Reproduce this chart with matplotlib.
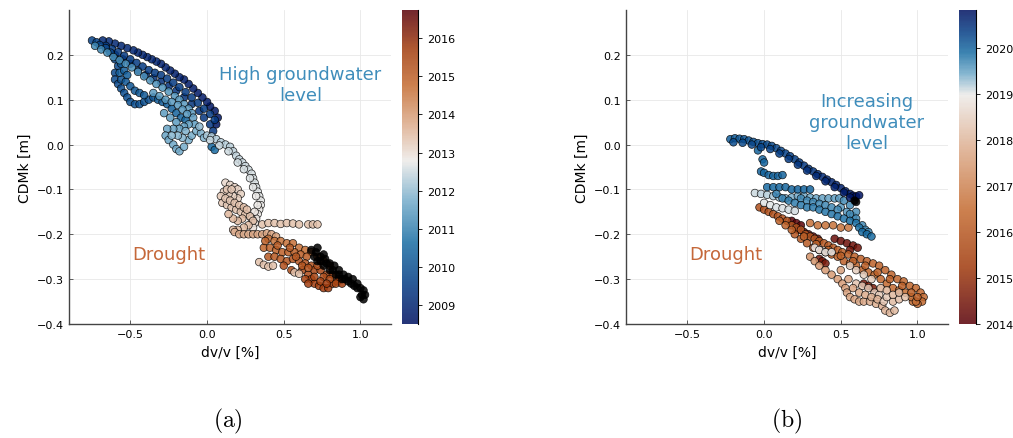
import matplotlib
matplotlib.use('Agg')
import matplotlib.pyplot as plt
from matplotlib.colors import LinearSegmentedColormap, Normalize

plt.rcParams['font.family'] = 'DejaVu Sans'
plt.rcParams['mathtext.fontset'] = 'cm'

# --- colour stops of a vik-like diverging map (position, rgb) ---
vik_stops = [
    (0.000, (0.00, 0.07, 0.38)),
    (0.125, (0.02, 0.24, 0.52)),
    (0.250, (0.10, 0.43, 0.64)),
    (0.375, (0.45, 0.67, 0.79)),
    (0.500, (0.93, 0.92, 0.91)),
    (0.625, (0.86, 0.66, 0.53)),
    (0.750, (0.77, 0.42, 0.19)),
    (0.875, (0.63, 0.23, 0.05)),
    (1.000, (0.35, 0.00, 0.03)),
]

# --- panel (a): (dv/v [%], CDMk [m], decimal year) ---
a_wet_early = [
    (0.06, 0.045, 2008.60), (0.07, 0.060, 2008.62), (0.05, 0.075, 2008.64), (0.02, 0.085, 2008.66),
    (0.00, 0.095, 2008.68), (-0.03, 0.105, 2008.70), (-0.06, 0.115, 2008.72), (-0.09, 0.125, 2008.74),
    (-0.12, 0.135, 2008.76), (-0.15, 0.145, 2008.78), (-0.18, 0.150, 2008.80), (-0.21, 0.158, 2008.82),
    (-0.24, 0.165, 2008.84), (-0.27, 0.172, 2008.86), (-0.30, 0.180, 2008.88), (-0.33, 0.185, 2008.90),
    (-0.36, 0.190, 2008.92), (-0.39, 0.195, 2008.94), (-0.42, 0.200, 2008.96), (-0.45, 0.205, 2008.98),
    (-0.48, 0.210, 2009.00), (-0.52, 0.215, 2009.02), (-0.56, 0.220, 2009.04), (-0.60, 0.225, 2009.06),
    (-0.64, 0.230, 2009.08), (-0.68, 0.232, 2009.10),
    (-0.60, 0.200, 2009.15), (-0.55, 0.190, 2009.17), (-0.50, 0.180, 2009.19), (-0.45, 0.165, 2009.21),
    (-0.40, 0.155, 2009.23), (-0.35, 0.148, 2009.25), (-0.30, 0.140, 2009.27), (-0.25, 0.130, 2009.29),
    (-0.20, 0.120, 2009.31), (-0.15, 0.105, 2009.33), (-0.10, 0.090, 2009.35), (-0.05, 0.075, 2009.37),
    (-0.02, 0.060, 2009.39), (0.02, 0.045, 2009.41), (0.04, 0.030, 2009.43),
    (-0.66, 0.220, 2009.50), (-0.62, 0.213, 2009.50), (-0.58, 0.206, 2009.50), (-0.54, 0.198, 2009.50),
    (-0.50, 0.190, 2009.50), (-0.46, 0.182, 2009.50), (-0.42, 0.174, 2009.50), (-0.38, 0.166, 2009.50),
    (-0.34, 0.160, 2009.50), (-0.30, 0.155, 2009.50), (-0.26, 0.147, 2009.50), (-0.22, 0.138, 2009.50),
    (-0.18, 0.128, 2009.50), (-0.14, 0.117, 2009.50), (-0.10, 0.105, 2009.50), (-0.06, 0.093, 2009.50),
    (-0.02, 0.080, 2009.50), (0.02, 0.068, 2009.50), (0.05, 0.055, 2009.50),
]
a_wet_mid = [
    (-0.75, 0.232, 2009.70), (-0.72, 0.228, 2009.72), (-0.70, 0.222, 2009.74), (-0.66, 0.215, 2009.76),
    (-0.63, 0.205, 2009.78), (-0.60, 0.190, 2009.80), (-0.58, 0.175, 2009.82), (-0.60, 0.160, 2009.84),
    (-0.60, 0.145, 2009.86), (-0.58, 0.135, 2009.88), (-0.56, 0.125, 2009.90), (-0.54, 0.115, 2009.92),
    (-0.52, 0.105, 2009.94), (-0.50, 0.095, 2009.96), (-0.47, 0.090, 2009.98), (-0.44, 0.090, 2010.00),
    (-0.41, 0.095, 2010.02), (-0.38, 0.100, 2010.04), (-0.35, 0.105, 2010.06), (-0.56, 0.145, 2010.10),
    (-0.53, 0.140, 2010.12), (-0.50, 0.130, 2010.14), (-0.47, 0.120, 2010.16), (-0.44, 0.115, 2010.18),
    (-0.41, 0.110, 2010.20), (-0.32, 0.100, 2010.24), (-0.29, 0.095, 2010.28), (-0.26, 0.090, 2010.32),
    (-0.23, 0.080, 2010.36), (-0.20, 0.070, 2010.40), (-0.17, 0.060, 2010.44), (-0.14, 0.055, 2010.48),
    (0.03, -0.005, 2010.55), (0.05, -0.012, 2010.58),
    (-0.57, 0.160, 2010.30), (-0.54, 0.165, 2010.30), (-0.56, 0.180, 2010.30), (-0.52, 0.155, 2010.30),
]
a_wet_late = [
    (-0.73, 0.220, 2011.10), (-0.69, 0.212, 2011.12), (-0.65, 0.205, 2011.14), (-0.61, 0.195, 2011.16),
    (-0.57, 0.188, 2011.18), (-0.53, 0.180, 2011.20), (-0.49, 0.172, 2011.22), (-0.45, 0.162, 2011.24),
    (-0.41, 0.152, 2011.26), (-0.37, 0.143, 2011.28), (-0.33, 0.135, 2011.30), (-0.29, 0.127, 2011.32),
    (-0.25, 0.118, 2011.34), (-0.21, 0.108, 2011.36), (-0.18, 0.100, 2011.38), (-0.15, 0.090, 2011.40),
    (-0.12, 0.080, 2011.44), (-0.10, 0.070, 2011.46), (-0.09, 0.060, 2011.48), (-0.08, 0.045, 2011.50),
    (-0.35, 0.115, 2011.40), (-0.31, 0.108, 2011.40), (-0.27, 0.100, 2011.40), (-0.23, 0.095, 2011.40),
    (-0.19, 0.088, 2011.40), (-0.16, 0.078, 2011.40), (-0.13, 0.068, 2011.40), (-0.28, 0.070, 2011.45),
    (-0.24, 0.060, 2011.45), (-0.20, 0.050, 2011.45),
    (-0.12, 0.045, 2011.52), (-0.15, 0.040, 2011.54), (-0.18, 0.035, 2011.56), (-0.22, 0.035, 2011.58),
    (-0.26, 0.035, 2011.60), (-0.27, 0.020, 2011.62), (-0.25, 0.010, 2011.64), (-0.22, 0.000, 2011.66),
    (-0.20, -0.010, 2011.68), (-0.18, -0.015, 2011.70), (-0.15, -0.005, 2011.72), (-0.12, 0.010, 2011.74),
    (-0.10, 0.020, 2011.76), (-0.07, 0.030, 2011.78), (-0.04, 0.025, 2011.80), (-0.02, 0.015, 2011.82),
    (-0.14, 0.030, 2011.84), (-0.16, 0.015, 2011.86), (-0.19, 0.020, 2011.88), (-0.23, 0.020, 2011.90),
    (-0.05, 0.040, 2011.92),
]
a_transition = [
    (0.00, 0.020, 2012.20), (0.03, 0.018, 2012.23), (0.06, 0.012, 2012.26), (0.09, 0.005, 2012.29),
    (0.12, 0.000, 2012.32), (0.15, -0.005, 2012.35), (0.17, -0.015, 2012.38), (0.19, -0.025, 2012.41),
    (0.21, -0.033, 2012.44), (0.23, -0.040, 2012.47), (0.25, -0.048, 2012.50), (0.27, -0.056, 2012.53),
    (0.29, -0.065, 2012.56), (0.30, -0.075, 2012.59), (0.31, -0.085, 2012.62), (0.32, -0.095, 2012.65),
    (0.33, -0.105, 2012.68), (0.34, -0.115, 2012.71), (0.35, -0.125, 2012.74), (0.35, -0.135, 2012.77),
    (0.34, -0.145, 2012.80), (0.33, -0.155, 2012.83), (0.32, -0.165, 2012.86),
    (0.02, 0.010, 2012.40), (0.08, -0.002, 2012.45), (0.14, -0.015, 2012.50), (0.20, -0.040, 2012.55),
    (0.24, -0.055, 2012.60), (0.28, -0.075, 2012.65), (0.30, -0.095, 2012.70), (0.32, -0.115, 2012.75),
    (0.33, -0.135, 2012.80), (0.31, -0.150, 2012.85), (0.29, -0.165, 2012.90), (0.31, -0.175, 2012.92),
    (0.30, -0.185, 2012.95),
]
a_dry_start = [
    (0.12, -0.085, 2013.10), (0.15, -0.090, 2013.12), (0.18, -0.095, 2013.14), (0.20, -0.100, 2013.16),
    (0.22, -0.110, 2013.18), (0.20, -0.120, 2013.20), (0.17, -0.115, 2013.22), (0.14, -0.110, 2013.24),
    (0.11, -0.105, 2013.26), (0.09, -0.115, 2013.28), (0.10, -0.130, 2013.30), (0.13, -0.135, 2013.32),
    (0.16, -0.140, 2013.34), (0.19, -0.145, 2013.36), (0.22, -0.150, 2013.38), (0.25, -0.155, 2013.40),
    (0.28, -0.160, 2013.42), (0.30, -0.170, 2013.44), (0.27, -0.180, 2013.46), (0.24, -0.185, 2013.48),
    (0.20, -0.190, 2013.50), (0.17, -0.190, 2013.52),
    (0.13, -0.100, 2013.30), (0.16, -0.100, 2013.30), (0.12, -0.120, 2013.35), (0.15, -0.125, 2013.35),
    (0.18, -0.130, 2013.40), (0.21, -0.135, 2013.40), (0.24, -0.140, 2013.45), (0.26, -0.145, 2013.45),
    (0.23, -0.165, 2013.50), (0.20, -0.170, 2013.50), (0.17, -0.165, 2013.55), (0.14, -0.155, 2013.55),
    (0.18, -0.195, 2013.70), (0.21, -0.200, 2013.72), (0.24, -0.200, 2013.74), (0.27, -0.200, 2013.76),
    (0.30, -0.200, 2013.78), (0.33, -0.200, 2013.80), (0.36, -0.200, 2013.82), (0.39, -0.198, 2013.84),
    (0.42, -0.200, 2013.86), (0.45, -0.205, 2013.88),
    (0.36, -0.178, 2013.40), (0.40, -0.175, 2013.40), (0.44, -0.175, 2013.40), (0.48, -0.177, 2013.40),
    (0.52, -0.175, 2013.40), (0.56, -0.176, 2013.40), (0.60, -0.178, 2013.40), (0.66, -0.178, 2013.40),
    (0.69, -0.178, 2013.40), (0.72, -0.178, 2013.40),
]
a_drought = [
    (0.40, -0.210, 2014.60), (0.44, -0.215, 2014.62), (0.48, -0.215, 2014.64), (0.52, -0.220, 2014.66),
    (0.56, -0.220, 2014.68), (0.60, -0.230, 2014.70), (0.64, -0.235, 2014.72), (0.68, -0.240, 2014.74),
    (0.72, -0.250, 2014.76), (0.76, -0.260, 2014.78), (0.80, -0.270, 2014.80),
    (0.37, -0.230, 2014.85), (0.41, -0.230, 2014.88), (0.45, -0.235, 2014.91), (0.49, -0.240, 2014.94),
    (0.53, -0.240, 2014.97), (0.57, -0.240, 2015.00), (0.61, -0.245, 2015.03), (0.65, -0.250, 2015.06),
    (0.40, -0.250, 2015.10), (0.44, -0.250, 2015.13), (0.48, -0.255, 2015.16), (0.52, -0.260, 2015.19),
    (0.56, -0.255, 2015.22), (0.60, -0.260, 2015.25), (0.64, -0.265, 2015.28), (0.68, -0.270, 2015.31),
    (0.50, -0.270, 2015.35), (0.55, -0.280, 2015.38), (0.62, -0.280, 2015.41), (0.66, -0.290, 2015.44),
    (0.70, -0.280, 2015.47), (0.74, -0.280, 2015.50), (0.78, -0.290, 2015.53), (0.82, -0.290, 2015.56),
    (0.86, -0.300, 2015.59),
    (0.68, -0.300, 2015.62), (0.70, -0.310, 2015.65), (0.73, -0.315, 2015.68), (0.76, -0.320, 2015.71),
    (0.79, -0.320, 2015.74), (0.82, -0.310, 2015.77), (0.85, -0.305, 2015.80),
    (0.38, -0.215, 2015.00), (0.46, -0.225, 2015.05), (0.54, -0.230, 2015.10), (0.58, -0.250, 2015.15),
    (0.62, -0.270, 2015.20), (0.66, -0.275, 2015.25), (0.72, -0.270, 2015.30), (0.76, -0.295, 2015.35),
    (0.80, -0.300, 2015.40), (0.84, -0.310, 2015.45), (0.70, -0.295, 2015.50), (0.74, -0.305, 2015.55),
    (0.64, -0.300, 2015.60), (0.66, -0.310, 2015.65), (0.88, -0.310, 2015.70), (0.78, -0.310, 2015.75),
    (0.34, -0.262, 2013.40), (0.37, -0.268, 2013.40), (0.40, -0.272, 2013.40), (0.43, -0.270, 2013.40),
    (0.57, -0.285, 2013.40), (0.60, -0.288, 2013.40),
]
a_after = [
    (0.68, -0.235, 2016.90), (0.71, -0.240, 2016.90), (0.74, -0.250, 2016.90), (0.77, -0.255, 2016.90),
    (0.80, -0.265, 2016.90), (0.83, -0.270, 2016.90), (0.86, -0.280, 2016.90), (0.89, -0.290, 2016.90),
    (0.92, -0.295, 2016.90), (0.95, -0.300, 2016.90), (0.98, -0.310, 2016.90), (1.00, -0.320, 2016.90),
    (1.02, -0.325, 2016.90), (1.03, -0.335, 2016.90), (1.02, -0.345, 2016.90), (0.72, -0.260, 2016.90),
    (0.76, -0.270, 2016.90), (0.80, -0.280, 2016.90), (0.84, -0.290, 2016.90), (0.88, -0.300, 2016.90),
    (0.92, -0.305, 2016.90), (0.96, -0.315, 2016.90),
    (0.70, -0.250, 2016.90), (0.74, -0.260, 2016.90), (0.78, -0.265, 2016.90), (0.82, -0.280, 2016.90),
    (0.86, -0.290, 2016.90), (0.90, -0.300, 2016.90), (0.94, -0.310, 2016.90), (0.98, -0.320, 2016.90),
    (1.01, -0.335, 2016.90), (1.00, -0.340, 2016.90), (0.72, -0.230, 2016.90), (0.76, -0.245, 2016.90),
]

# --- panel (b) ---
b_dry_early = [
    (0.18, -0.170, 2014.05), (0.21, -0.175, 2014.08), (0.24, -0.180, 2014.11), (0.22, -0.190, 2014.14),
    (0.26, -0.195, 2014.17), (0.29, -0.200, 2014.20), (0.32, -0.205, 2014.23), (0.35, -0.210, 2014.26),
    (0.46, -0.210, 2014.30), (0.50, -0.215, 2014.33), (0.54, -0.220, 2014.36), (0.58, -0.225, 2014.39),
    (0.61, -0.230, 2014.42), (0.56, -0.235, 2014.45), (0.36, -0.255, 2014.48), (0.38, -0.260, 2014.51),
    (0.40, -0.265, 2014.54), (0.65, -0.310, 2014.57), (0.68, -0.315, 2014.60), (0.71, -0.320, 2014.63),
]
b_drought = [
    (-0.03, -0.140, 2015.80), (0.00, -0.145, 2015.82), (0.03, -0.150, 2015.84), (0.06, -0.155, 2015.86),
    (0.09, -0.160, 2015.88), (0.12, -0.165, 2015.90), (0.15, -0.170, 2015.92), (0.18, -0.180, 2015.94),
    (0.21, -0.185, 2015.96), (0.24, -0.190, 2015.98), (0.27, -0.200, 2016.00), (0.30, -0.205, 2016.02),
    (0.33, -0.210, 2016.04), (0.36, -0.215, 2016.06), (0.39, -0.220, 2016.08), (0.42, -0.225, 2016.10),
    (0.45, -0.230, 2016.12), (0.48, -0.235, 2016.14), (0.51, -0.240, 2016.16), (0.55, -0.245, 2016.18),
    (0.59, -0.250, 2016.20), (0.63, -0.255, 2016.22), (0.67, -0.260, 2016.24), (0.71, -0.265, 2016.26),
    (0.75, -0.270, 2016.28), (0.79, -0.280, 2016.30), (0.83, -0.290, 2016.32), (0.87, -0.300, 2016.34),
    (0.91, -0.305, 2016.36), (0.95, -0.315, 2016.38), (0.99, -0.320, 2016.40), (1.02, -0.330, 2016.42),
    (1.04, -0.340, 2016.44), (1.03, -0.350, 2016.46), (1.00, -0.355, 2016.48), (0.97, -0.350, 2016.50),
    (0.20, -0.200, 2016.00), (0.24, -0.210, 2016.03), (0.28, -0.220, 2016.06), (0.32, -0.230, 2016.09),
    (0.36, -0.235, 2016.12), (0.40, -0.240, 2016.15), (0.44, -0.245, 2016.18), (0.48, -0.250, 2016.21),
    (0.52, -0.260, 2016.24), (0.56, -0.265, 2016.27), (0.60, -0.270, 2016.30), (0.64, -0.280, 2016.33),
    (0.68, -0.285, 2016.36), (0.72, -0.290, 2016.39), (0.76, -0.300, 2016.42), (0.80, -0.310, 2016.45),
    (0.84, -0.320, 2016.48), (0.88, -0.325, 2016.51), (0.92, -0.330, 2016.54), (0.96, -0.340, 2016.57),
    (0.99, -0.350, 2016.60),
    (0.10, -0.170, 2016.20), (0.14, -0.180, 2016.20), (0.18, -0.190, 2016.20), (0.26, -0.205, 2016.20),
    (0.34, -0.222, 2016.20), (0.42, -0.235, 2016.20), (0.50, -0.248, 2016.20), (0.58, -0.260, 2016.20),
    (0.66, -0.270, 2016.20), (0.74, -0.285, 2016.20), (0.82, -0.300, 2016.20), (0.90, -0.315, 2016.20),
    (0.96, -0.330, 2016.20), (1.00, -0.340, 2016.20),
    (0.30, -0.175, 2016.60), (0.35, -0.180, 2016.62), (0.40, -0.180, 2016.64), (0.45, -0.180, 2016.66),
    (0.50, -0.185, 2016.68), (0.55, -0.185, 2016.70),
]
b_recovery = [
    (0.30, -0.250, 2017.30), (0.33, -0.260, 2017.34), (0.36, -0.270, 2017.38), (0.40, -0.280, 2017.42),
    (0.44, -0.290, 2017.46), (0.48, -0.300, 2017.50), (0.51, -0.310, 2017.54), (0.53, -0.320, 2017.58),
    (0.54, -0.330, 2017.62), (0.56, -0.340, 2017.66), (0.59, -0.345, 2017.70), (0.62, -0.350, 2017.74),
    (0.65, -0.350, 2017.78), (0.69, -0.350, 2017.82), (0.73, -0.355, 2017.86), (0.77, -0.360, 2017.90),
    (0.79, -0.370, 2017.94), (0.82, -0.375, 2018.00), (0.85, -0.370, 2018.05), (0.84, -0.350, 2018.10),
    (0.88, -0.345, 2018.15), (0.92, -0.340, 2018.20), (0.60, -0.310, 2018.25), (0.64, -0.315, 2018.28),
    (0.68, -0.320, 2018.31), (0.72, -0.330, 2018.34), (0.75, -0.335, 2018.37), (0.70, -0.300, 2018.40),
    (0.65, -0.290, 2018.43), (0.60, -0.280, 2018.46), (0.56, -0.270, 2018.49),
    (0.50, -0.280, 2017.60), (0.55, -0.300, 2017.65), (0.58, -0.320, 2017.70), (0.62, -0.330, 2017.75),
    (0.66, -0.335, 2017.80), (0.70, -0.340, 2017.85), (0.74, -0.345, 2017.90), (0.78, -0.350, 2018.30),
    (0.80, -0.340, 2018.35), (0.76, -0.320, 2017.95), (0.80, -0.325, 2018.00), (0.84, -0.335, 2018.05),
    (0.88, -0.330, 2018.10),
    (0.33, -0.230, 2018.95), (0.36, -0.235, 2018.97), (0.40, -0.240, 2018.99), (0.44, -0.240, 2019.01),
    (0.00, -0.130, 2019.03), (0.04, -0.135, 2019.04), (0.08, -0.140, 2019.05), (0.12, -0.142, 2019.06),
    (0.16, -0.145, 2019.07), (0.20, -0.148, 2019.08),
]
b_wet = [
    (-0.06, -0.108, 2019.10), (-0.02, -0.110, 2019.15), (0.02, -0.112, 2019.20), (0.06, -0.115, 2019.25),
    (0.10, -0.118, 2019.30), (0.14, -0.120, 2019.35), (0.18, -0.118, 2019.40), (0.22, -0.115, 2019.42),
    (0.26, -0.115, 2019.44), (0.30, -0.118, 2019.46), (0.34, -0.120, 2019.48), (0.38, -0.120, 2019.50),
    (0.42, -0.120, 2019.52), (0.46, -0.120, 2019.54), (0.49, -0.120, 2019.56),
    (0.50, -0.140, 2019.58), (0.54, -0.150, 2019.60), (0.58, -0.160, 2019.62), (0.60, -0.150, 2019.64),
    (0.56, -0.135, 2019.66), (0.52, -0.125, 2019.68), (0.64, -0.180, 2019.70), (0.66, -0.190, 2019.72),
    (0.24, -0.120, 2019.70), (0.28, -0.125, 2019.70), (0.32, -0.128, 2019.70), (0.36, -0.132, 2019.70),
    (0.40, -0.135, 2019.70), (0.44, -0.140, 2019.70), (0.48, -0.145, 2019.70), (0.56, -0.155, 2019.70),
    (0.60, -0.165, 2019.70), (0.68, -0.195, 2019.70),
    (0.08, -0.110, 2019.75), (0.12, -0.120, 2019.76), (0.16, -0.125, 2019.77), (0.20, -0.130, 2019.78),
    (0.24, -0.135, 2019.79), (0.28, -0.140, 2019.80), (0.32, -0.140, 2019.81), (0.36, -0.145, 2019.82),
    (0.40, -0.150, 2019.83), (0.44, -0.155, 2019.84), (0.48, -0.160, 2019.85), (0.52, -0.165, 2019.86),
    (0.56, -0.170, 2019.87), (0.60, -0.175, 2019.88), (0.62, -0.185, 2019.89), (0.64, -0.195, 2019.90),
    (0.67, -0.200, 2019.91), (0.70, -0.205, 2019.92),
    (0.02, -0.095, 2019.93), (0.06, -0.095, 2019.94), (0.10, -0.095, 2019.95), (0.14, -0.095, 2019.96),
    (0.18, -0.100, 2019.97), (0.22, -0.100, 2019.98), (0.26, -0.100, 2019.99), (0.30, -0.100, 2020.00),
    (-0.04, -0.013, 2020.00), (-0.01, -0.033, 2020.00), (0.00, -0.040, 2020.00), (-0.02, -0.060, 2020.00),
    (0.00, -0.063, 2020.00), (0.03, -0.068, 2020.00), (0.06, -0.070, 2020.00), (0.09, -0.070, 2020.00),
    (0.12, -0.068, 2020.00),
]
b_wet_late = [
    (-0.22, 0.012, 2020.05), (-0.19, 0.014, 2020.08), (-0.16, 0.013, 2020.10), (-0.13, 0.012, 2020.12),
    (-0.10, 0.009, 2020.14), (-0.07, 0.006, 2020.16), (-0.04, 0.003, 2020.18), (-0.01, 0.001, 2020.20),
    (0.02, 0.000, 2020.22), (0.05, -0.003, 2020.24), (0.08, -0.008, 2020.26), (0.11, -0.014, 2020.28),
    (0.14, -0.020, 2020.30), (0.17, -0.026, 2020.33), (0.20, -0.033, 2020.36), (0.23, -0.040, 2020.39),
    (0.26, -0.047, 2020.42), (0.29, -0.054, 2020.45), (0.32, -0.060, 2020.48), (0.35, -0.066, 2020.51),
    (0.38, -0.072, 2020.54), (0.41, -0.078, 2020.57), (0.44, -0.084, 2020.60), (0.47, -0.090, 2020.63),
    (0.50, -0.097, 2020.66), (0.53, -0.104, 2020.69), (0.56, -0.110, 2020.72), (0.58, -0.114, 2020.75),
    (0.60, -0.116, 2020.78), (0.62, -0.113, 2020.80),
    (-0.20, 0.005, 2020.20), (-0.14, 0.004, 2020.22), (-0.08, 0.000, 2020.25), (-0.02, -0.006, 2020.28),
    (0.04, -0.010, 2020.32), (0.10, -0.020, 2020.36), (0.16, -0.032, 2020.40), (0.22, -0.045, 2020.45),
    (0.28, -0.058, 2020.50), (0.34, -0.070, 2020.55), (0.40, -0.082, 2020.60), (0.46, -0.095, 2020.65),
    (0.52, -0.107, 2020.70), (0.56, -0.118, 2020.75),
    (0.59, -0.125, 2020.90), (0.60, -0.128, 2020.90),
]

a_years = [2009, 2010, 2011, 2012, 2013, 2014, 2015, 2016]
b_years = [2014, 2015, 2016, 2017, 2018, 2019, 2020]


def make_cmap(name, reverse, centre):
    # put the white middle of the map at 'centre' of the colour range
    stops = []
    for p, c in vik_stops:
        q = 1 - p if reverse else p
        if q <= 0.5:
            q2 = q / 0.5 * centre
        else:
            q2 = centre + (q - 0.5) / 0.5 * (1 - centre)
        stops.append((q2, c))
    stops.sort()
    cmap = LinearSegmentedColormap.from_list(name, stops)
    cmap.set_over('black')
    return cmap


def draw_panel(fig, ax_rect, cax_rect, groups, cmap, vmin, vmax, cticks, notes, tag, tag_x):
    ax = fig.add_axes(ax_rect)
    pts = [p for g in groups for p in g]
    x = [p[0] for p in pts]
    y = [p[1] for p in pts]
    yr = [p[2] for p in pts]
    sc = ax.scatter(x, y, c=yr, cmap=cmap, norm=Normalize(vmin, vmax), s=30,
                    edgecolors='black', linewidths=0.5, alpha=0.85, zorder=3)

    ax.set_xlim(-0.9, 1.2)
    ax.set_ylim(-0.4, 0.3)
    ax.set_xticks([-0.5, 0.0, 0.5, 1.0])
    ax.set_yticks([-0.4, -0.3, -0.2, -0.1, 0.0, 0.1, 0.2])
    ax.grid(True, color='#e8e8e8', linewidth=0.6, zorder=0)
    ax.set_axisbelow(True)
    for s in ['top', 'right']:
        ax.spines[s].set_visible(False)
    for s in ['left', 'bottom']:
        ax.spines[s].set_color('#444444')
        ax.spines[s].set_linewidth(1.0)
    ax.tick_params(labelsize=8, direction='in', length=3, width=0.6, color='#444444')
    ax.set_xlabel('dv/v [%]', fontsize=10)
    ax.set_ylabel('CDMk [m]', fontsize=10)

    for tx, ty, text, col in notes:
        ax.text(tx, ty, text, color=col, fontsize=13, ha='center', va='center', zorder=4)

    cax = fig.add_axes(cax_rect)
    cb = fig.colorbar(sc, cax=cax, alpha=0.75)
    cb.set_ticks(cticks)
    cb.ax.tick_params(labelsize=8, length=3, width=0.6)
    cb.outline.set_visible(False)
    cax.plot([1, 1], [0, 1], transform=cax.transAxes, color='black', lw=0.8, clip_on=False)

    fig.text(tag_x, 0.04, tag, fontsize=17, ha='center', va='center')


def main():
    fig = plt.figure(figsize=(10.13, 4.39), dpi=100)

    blue_txt = '#3f8dbb'
    orange_txt = '#c5683a'

    cmap_a = make_cmap('vik_a', False, 0.52)
    cmap_b = make_cmap('vik_b', True, 0.73)

    draw_panel(fig, [0.0681, 0.2597, 0.318, 0.7153], [0.3968, 0.2597, 0.0158, 0.7153],
               [a_wet_early, a_wet_mid, a_wet_late, a_transition, a_dry_start, a_drought, a_after],
               cmap_a, 2008.5, 2016.74, a_years,
               [(0.61, 0.134, 'High groundwater\nlevel', blue_txt),
                (-0.25, -0.244, 'Drought', orange_txt)],
               r'$\mathrm{(a)}$', 0.225)

    draw_panel(fig, [0.618, 0.2597, 0.318, 0.7153], [0.9467, 0.2597, 0.0168, 0.7153],
               [b_dry_early, b_drought, b_recovery, b_wet, b_wet_late],
               cmap_b, 2014.0, 2020.83, b_years,
               [(0.67, 0.05, 'Increasing\ngroundwater\nlevel', blue_txt),
                (-0.25, -0.244, 'Drought', orange_txt)],
               r'$\mathrm{(b)}$', 0.776)

    fig.savefig('out.png', dpi=100)


if __name__ == '__main__':
    main()
